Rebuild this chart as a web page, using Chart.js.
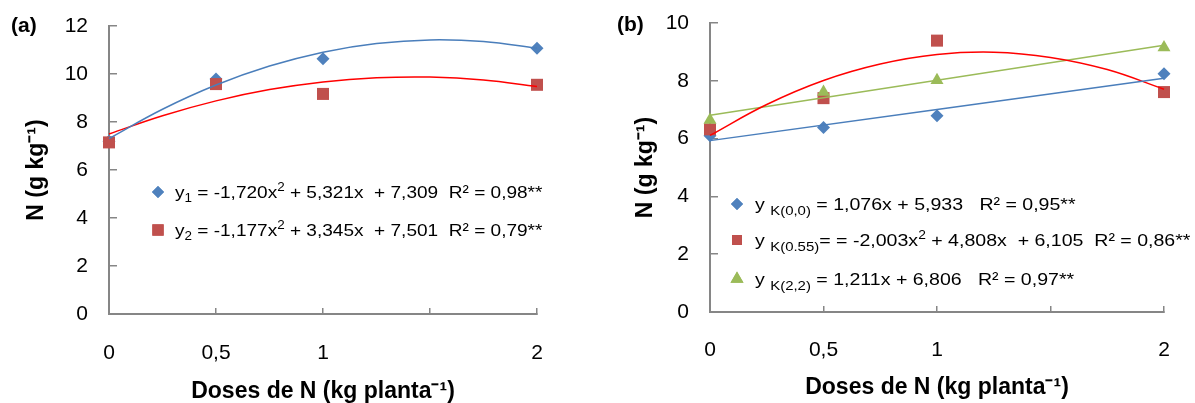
<!DOCTYPE html>
<html>
<head>
<meta charset="utf-8">
<script src="https://cdn.jsdelivr.net/npm/chart.js@4.4.1/dist/chart.umd.min.js"></script>
<style>
  html, body { margin: 0; padding: 0; background: #fff; }
  #wrap { position: relative; width: 1195px; height: 403px; overflow: hidden; }
  canvas { position: absolute; top: 0; }
</style>
</head>
<body>
<div id="wrap">
  <canvas id="chartA" width="597" height="403" style="left:0"></canvas>
  <canvas id="chartB" width="598" height="403" style="left:597px"></canvas>
</div>
<script>
// ---------- data ----------
const doses = [0, 0.5, 1, 2];
const xTickValues = [0, 0.5, 1, 1.5, 2];
const xTickLabels = ['0', '0,5', '1', '', '2'];
const fitX = [0, 0.25, 0.5, 0.75, 1, 1.25, 1.5, 1.75, 2];
const lineX = [0, 2];

// panel (a)
const nA1 = [7.2, 9.79, 10.64, 11.07];
const nA2 = [7.15, 9.58, 9.17, 9.55];
const fitA1 = [7.31, 8.53, 9.54, 10.33, 10.91, 11.27, 11.42, 11.35, 11.07];
const fitA2 = [7.50, 8.26, 8.88, 9.35, 9.67, 9.84, 9.87, 9.75, 9.48];

// panel (b)
const nB00 = [6.10, 6.38, 6.79, 8.24];
const nB055 = [6.32, 7.40, 9.39, 7.61];
const nB22 = [6.64, 7.61, 8.02, 9.15];
const fitB00 = [5.93, 8.09];
const fitB055 = [6.11, 7.18, 8.01, 8.58, 8.91, 8.99, 8.81, 8.39, 7.71];
const fitB22 = [6.81, 9.23];

// legend texts: [text, font size, baseline shift]
const legendA = [
  [['y', 17, 0], ['1', 12, 4], [' = -1,720x', 17, 0], ['2', 12, -7], [' + 5,321x  + 7,309  R\u00b2 = 0,98**', 17, 0]],
  [['y', 17, 0], ['2', 12, 4], [' = -1,177x', 17, 0], ['2', 12, -7], [' + 3,345x  + 7,501  R\u00b2 = 0,79**', 17, 0]]
];
const legendB = [
  [['y ', 17, 0], ['K(0,0)', 13, 5], [' = 1,076x + 5,933   R\u00b2 = 0,95**', 17, 0]],
  [['y ', 17, 0], ['K(0.55)', 13, 5], ['= = -2,003x', 17, 0], ['2', 12, -7], [' + 4,808x  + 6,105  R\u00b2 = 0,86**', 17, 0]],
  [['y ', 17, 0], ['K(2,2)', 13, 5], [' = 1,211x + 6,806   R\u00b2 = 0,97**', 17, 0]]
];

const FONT = '"Liberation Sans", Arial, sans-serif';
const AXIS = '#868686';
const BLUE = '#4F81BD', RED_M = '#C0504D', GREEN = '#9BBB59';
const BLUE_L = '#4A7EBB', RED_L = '#FF0000', GREEN_L = '#9BBB59';

function pts(xs, ys) { return xs.map((x, i) => ({ x: x, y: ys[i] })); }

// higher order = drawn earlier (underneath), like Excel's series stacking
function markers(data, style, color, radius, order) {
  return {
    type: 'scatter', data: pts(doses, data), showLine: false, clip: false,
    pointStyle: style, pointRadius: radius, pointHoverRadius: radius,
    backgroundColor: color, borderColor: color, borderWidth: 0, order: order
  };
}

function curve(xs, data, color) {
  return {
    type: 'line', data: pts(xs, data), showLine: true, fill: false, clip: false,
    borderColor: color, borderWidth: 1.5, pointRadius: 0, tension: 0.4, order: 1
  };
}

// text with sub/superscripts, slightly widened like the original
function drawRich(ctx, x, y, parts, sx) {
  ctx.save();
  ctx.translate(x, y);
  ctx.scale(sx, 1);
  let cx = 0;
  for (const [t, size, dy] of parts) {
    ctx.font = size + 'px ' + FONT;
    ctx.fillText(t, cx, dy);
    cx += ctx.measureText(t).width;
  }
  ctx.restore();
}

const overlayPlugin = {
  id: 'overlay',
  afterDraw(chart, args, opts) {
    const ctx = chart.ctx;
    ctx.save();
    ctx.fillStyle = '#000';
    ctx.textBaseline = 'middle';
    ctx.font = 'bold 21px ' + FONT;
    ctx.fillText(opts.letter, opts.letterX, opts.letterY);
    ctx.textBaseline = 'alphabetic';
    opts.rows.forEach((row, i) => {
      const m = opts.marks[i];
      ctx.fillStyle = m.color;
      Chart.helpers.drawPoint(ctx, { pointStyle: m.style, radius: m.radius, rotation: 0, borderWidth: 0 }, opts.markX, opts.rowY[i]);
      ctx.fill();
      ctx.fillStyle = '#000';
      drawRich(ctx, opts.textX, opts.rowY[i] + 6, row, opts.stretch);
    });
    ctx.restore();
  }
};

function scales(yMax, yWidth, xHeight, titlePad, xTitlePad, xTickPad) {
  return {
    x: {
      type: 'linear', min: 0, max: 2,
      afterBuildTicks: s => { s.ticks = xTickValues.map(v => ({ value: v })); },
      ticks: {
        color: '#000', font: { family: FONT, size: 21 }, padding: xTickPad,
        callback: (v, i) => xTickLabels[i]
      },
      grid: { drawOnChartArea: false, drawTicks: true, tickLength: -6, color: AXIS, lineWidth: 1.5 },
      border: { color: AXIS, width: 2 },
      title: {
        display: true, text: 'Doses de N (kg planta\u207b\u00b9)', color: '#000',
        font: { family: FONT, size: 23, weight: 'bold', lineHeight: 1 }, padding: { top: 0, bottom: xTitlePad }
      },
      afterFit: s => { s.height = xHeight; s.paddingLeft = 0; s.paddingRight = 0; }
    },
    y: {
      min: 0, max: yMax,
      ticks: { stepSize: 2, color: '#000', font: { family: FONT, size: 21 }, padding: 29 },
      grid: { drawOnChartArea: false, drawTicks: true, tickLength: -8, color: AXIS, lineWidth: 1.5 },
      border: { color: AXIS, width: 2 },
      title: {
        display: true, text: 'N (g kg\u207b\u00b9)', color: '#000',
        font: { family: FONT, size: 23, weight: 'bold', lineHeight: 1 }, padding: { top: titlePad, bottom: 0 }
      },
      afterFit: s => { s.width = yWidth; s.paddingTop = 0; s.paddingBottom = 0; }
    }
  };
}

const common = {
  responsive: false, animation: false, events: [],
  plugins: { legend: { display: false }, tooltip: { enabled: false } }
};

new Chart(document.getElementById('chartA'), {
  type: 'scatter',
  data: {
    datasets: [
      markers(nA1, 'rectRot', BLUE, 6.5, 4),
      markers(nA2, 'rect', RED_M, 8.5, 3),
      curve(fitX, fitA1, BLUE_L),
      curve(fitX, fitA2, RED_L)
    ]
  },
  options: Object.assign({}, common, {
    layout: { padding: { left: 0, right: 60, top: 26, bottom: 0 } },
    scales: scales(12, 109, 89, 25.5, 0, 33),
    plugins: Object.assign({}, common.plugins, {
      overlay: {
        letter: '(a)', letterX: 11, letterY: 26, stretch: 1.12,
        markX: 158, textX: 175, rowY: [192, 230],
        rows: legendA,
        marks: [{ style: 'rectRot', color: BLUE, radius: 6 }, { style: 'rect', color: RED_M, radius: 8 }]
      }
    })
  }),
  plugins: [overlayPlugin]
});

new Chart(document.getElementById('chartB'), {
  type: 'scatter',
  data: {
    datasets: [
      markers(nB00, 'rectRot', BLUE, 6.5, 5),
      markers(nB055, 'rect', RED_M, 8.5, 4),
      markers(nB22, 'triangle', GREEN, 7.5, 3),
      curve(lineX, fitB00, BLUE_L),
      curve(fitX, fitB055, RED_L),
      curve(lineX, fitB22, GREEN_L)
    ]
  },
  options: Object.assign({}, common, {
    layout: { padding: { left: 0, right: 31, top: 23, bottom: 0 } },
    scales: scales(10, 113, 91, 37, 3.5, 31.5),
    plugins: Object.assign({}, common.plugins, {
      overlay: {
        letter: '(b)', letterX: 20, letterY: 25, stretch: 1.15,
        markX: 140, textX: 158, rowY: [204, 240, 279],
        rows: legendB,
        marks: [
          { style: 'rectRot', color: BLUE, radius: 6 },
          { style: 'rect', color: RED_M, radius: 7 },
          { style: 'triangle', color: GREEN, radius: 7.5 }
        ]
      }
    })
  }),
  plugins: [overlayPlugin]
});
</script>
</body>
</html>
